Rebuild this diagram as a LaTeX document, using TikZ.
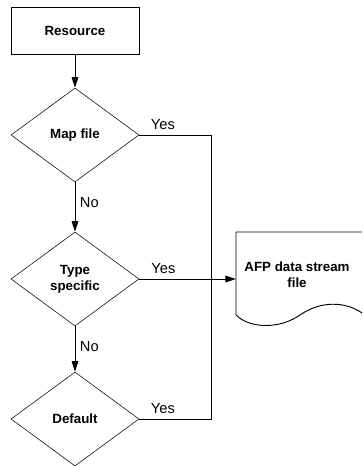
\documentclass[tikz,border=0pt]{standalone}
\usepackage{fontspec}
\setmainfont{Liberation Sans}
\usepackage{tikz}
\usetikzlibrary{arrows.meta}
\usetikzlibrary{positioning, shapes.geometric}
\tikzset{
resource box/.style = { rectangle, draw = black, fill = white, minimum width = 96pt, minimum height = 35.25pt, inner sep = 0pt, font = \bfseries },
decision/.style = { diamond, draw = black, fill = white, aspect = 1.36, minimum width = 96pt, minimum height = 70.5pt, inner sep = 0pt, align = center, font = \bfseries },
flow/.style = { draw = black, line width = 0.7pt },
flow arrow/.style = { flow, -{Triangle[length = 8pt, width = 5pt]} },
answer/.style = { font = \fontsize{11}{13}\selectfont },
}

\begin{document}
\begin{tikzpicture}[x = 0.75pt, y = -0.75pt, font = \fontsize{11}{13.5}\selectfont]
      \useasboundingbox (0, 0) rectangle (362, 466);
      % boxes and decisions
      \node[resource box] (resource) at (75, 31) {Resource};
      \node[decision] (mapfile) at (75, 135) {Map file};
      \node[decision] (typespec) at (75, 279) {Type\\specific};
      \node[decision] (default) at (75, 419) {Default};
      % output document, cut off at the right
      \draw[flow] (362, 232) -- (236, 232) -- (236, 315)
            .. controls (250, 329) and (280, 329) .. (300, 315)
            .. controls (320, 301) and (345, 301) .. (362, 313);
      \node[font = \bfseries, align = center] (afp) at (297, 275) {AFP data stream\\file};
      \coordinate (afpin) at (236, 279);
      \coordinate (jointop) at (211, 135);
      \coordinate (joinbot) at (211, 419);
      % connectors
      \draw[flow arrow] (resource) -- (mapfile);
      \draw[flow arrow] (mapfile) -- node[answer, right, pos = 0.4] {No} (typespec);
      \draw[flow arrow] (typespec) -- node[answer, right, pos = 0.45] {No} (default);
      \draw[flow] (mapfile.east) -- node[answer, above, pos = 0.33] {Yes} (jointop) -- (joinbot)
            -- node[answer, above, pos = 0.67] {Yes} (default.east);
      \draw[flow arrow] (typespec.east) -- node[answer, above, pos = 0.25] {Yes} (afpin);
\end{tikzpicture}
\end{document}
